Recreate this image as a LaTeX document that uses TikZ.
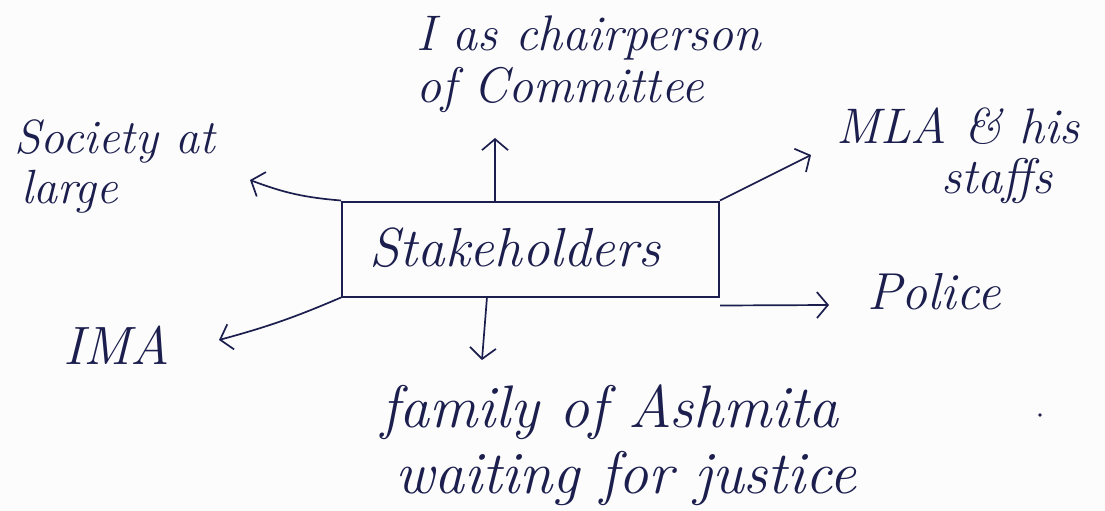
\documentclass[tikz,border=0pt]{standalone}
\usetikzlibrary{arrows.meta}
\definecolor{ink}{HTML}{1C1F4E}
\definecolor{paper}{HTML}{FCFCFC}
\tikzset{
  hand/.style={text=ink, font=\fontsize{#1}{#1}\selectfont\itshape, inner sep=0pt, align=left},
  hub/.style={draw=ink, line width=2pt, minimum width=377pt, minimum height=95pt, inner sep=0pt},
  arr/.style={draw=ink, line width=1.7pt, -{Straight Barb[length=11pt,width=26pt,line width=1.7pt]}},
}
\begin{document}
\begin{tikzpicture}[x=1pt,y=-1pt]
  \fill[paper] (0,0) rectangle (1105,511);
  \useasboundingbox (0,0) rectangle (1105,511);

  % central box
  \node[hub] (stake) at (530.5,249) {};
  \node[hand=55, anchor=base] (stxt) at (515,266) {Stakeholders};

  % outer labels
  \node[hand=50, anchor=north west] (chair) at (416,16)
    {I as chairperson\\[2pt]of Committee};
  \node[hand=48, anchor=north west] (soc) at (14,120)
    {Society at\\[2pt]\hspace*{7pt}large};
  \node[hand=50, anchor=north west] (mla) at (836,108)
    {MLA \& his\\[0pt]\hspace*{105pt}staffs};
  \node[hand=52, anchor=base west] (police) at (867,309) {Police};
  \node[hand=54, anchor=base west] (ima) at (63,364) {IMA};
  \node[hand=60, anchor=north west] (fam) at (381,384)
    {family of Ashmita\\[6pt]\hspace*{14pt}waiting for justice};

  % arrow end points
  \coordinate (upend) at (495,138);
  \coordinate (socend) at (250,180);
  \coordinate (mlaend) at (811,155);
  \coordinate (polend) at (829,305);
  \coordinate (imaend) at (219,340);
  \coordinate (downstart) at (487,297);
  \coordinate (downend) at (482,360);

  \draw[arr] (upend |- stake.north) -- (upend);
  \draw[arr] (stake.north west) to[bend left=8] (socend);
  \draw[arr] (stake.north east) -- (mlaend);
  \draw[arr] ([yshift=-8pt]stake.south east) -- (polend);
  \draw[arr] (stake.south west) to[bend left=4] (imaend);
  \draw[arr] (downstart) -- (downend);

  % stray ink dot
  \fill[ink] (1040,415) circle (1.8pt);
\end{tikzpicture}
\end{document}
